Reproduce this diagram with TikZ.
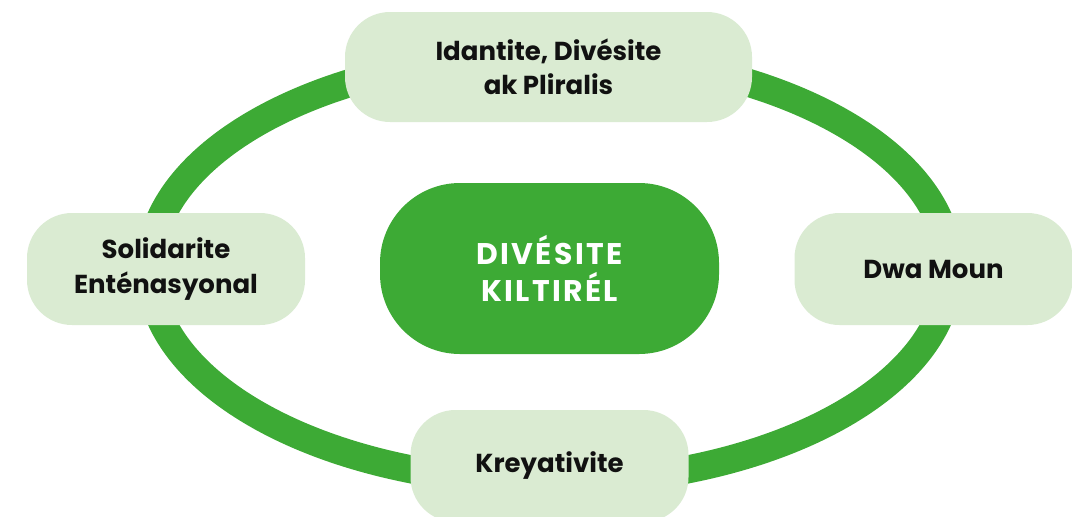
\documentclass[tikz,border=0pt]{standalone}
\usepackage{fontspec}
\setmainfont{Poppins}
\newfontfamily\spacedfont{Poppins}[LetterSpace=8]
\definecolor{ringgreen}{RGB}{61,170,53}
\definecolor{leafbg}{RGB}{218,235,210}
\definecolor{inkdark}{RGB}{17,17,17}

\begin{document}
\begin{tikzpicture}[
    topic/.style={fill=leafbg, rounded corners=0.45cm, inner sep=0pt,
      align=center, text=inkdark, minimum width=2.78cm, minimum height=1.12cm,
      font=\fontsize{7.4}{9.7}\selectfont\bfseries},
    hub/.style={fill=ringgreen, rounded corners=0.8cm, inner sep=0pt,
      align=center, text=white, minimum width=3.39cm, minimum height=1.71cm,
      font=\spacedfont\fontsize{8.5}{10.5}\selectfont\bfseries},
    ring/.style={draw=ringgreen, line width=0.28cm}
  ]
            \useasboundingbox (0,0) rectangle (10.72,5.16);

            \node[hub] (dk) at (5.495,2.475) {DIVÉSITE\\KILTIRÉL};
            \draw[ring] (dk.center) ellipse [x radius=4, y radius=2.14];

            \node[topic, minimum width=4.07cm, minimum height=1.10cm] (idp) at (5.485,4.49) {Idantite, Divésite\\ak Pliralis};
            \node[topic] (sol) at (1.66,2.47) {Solidarite\\Enténasyonal};
            \node[topic] (dwa) at (9.335,2.47) {Dwa Moun};
            \node[topic] (kre) at (5.495,0.50) {Kreyativite};
        \end{tikzpicture}
\end{document}
